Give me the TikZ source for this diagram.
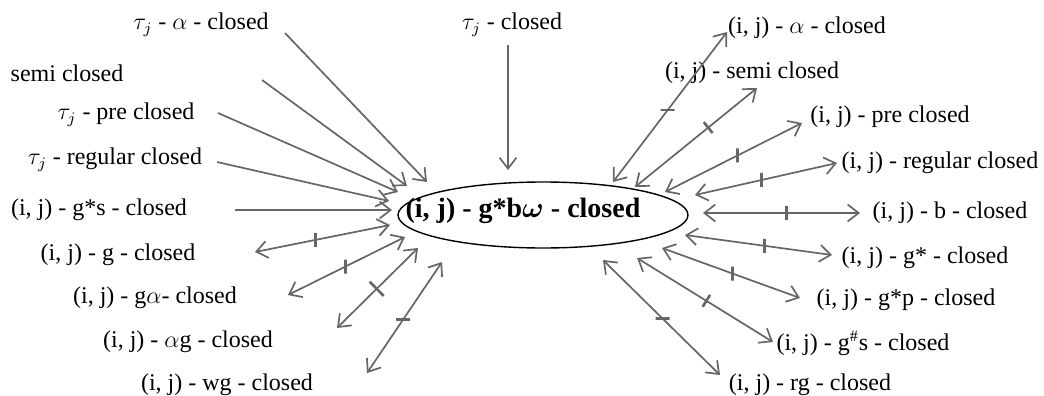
\documentclass[tikz,border=0pt]{standalone}
\usepackage{fontspec}
\setmainfont{Liberation Serif}
\usepackage{amsmath}
\usetikzlibrary{arrows.meta,shapes.geometric}

\tikzset{
    lbl/.style={font=\fontsize{12}{14}\selectfont, inner sep=2pt},
    link/.style={color=black!60, line width=0.85pt,
        -{Straight Barb[length=5.5pt,width=8.5pt]}},
    both/.style={link,
        {Straight Barb[length=5.5pt,width=8.5pt]}-{Straight Barb[length=5.5pt,width=8.5pt]}},
    vtick/.style={draw, line width=1.3pt, inner sep=0pt, minimum width=0pt, minimum height=7pt},
    htick/.style={draw, line width=1.3pt, inner sep=0pt, minimum width=7pt, minimum height=0pt},
    ptick/.style={vtick, sloped}
}

\begin{document}
\begin{tikzpicture}[x=0.5pt, y=-0.5pt]
    \useasboundingbox (0,0) rectangle (1044,396);

    % ===== CENTRE =====
    \node[draw, ellipse, line width=0.7pt, minimum width=145pt, minimum height=33pt,
          inner sep=0pt] (ring) at (543,215) {};
    \node[font=\fontsize{14}{16}\selectfont\bfseries] (main) at (523,211)
        {(i, j) - g*b$\boldsymbol{\omega}$ - closed};

    % ===== LEFT LABELS =====
    \node[lbl] (tauA)   at (201,25)  {$\tau_j$ - $\alpha$ - closed};
    \node[lbl] (semi)   at (67,73)   {semi closed};
    \node[lbl] (tauPre) at (126,115) {$\tau_j$ - pre closed};
    \node[lbl] (tauReg) at (115,160) {$\tau_j$ - regular closed};
    \node[lbl] (ijGs)   at (99,210)  {(i, j) - g*s - closed};
    \node[lbl] (ijG)    at (118,255) {(i, j) - g - closed};
    \node[lbl] (ijGa)   at (155,298) {(i, j) - g$\alpha$- closed};
    \node[lbl] (ijAg)   at (188,342) {(i, j) - $\alpha$g - closed};
    \node[lbl] (ijWg)   at (227,385) {(i, j) - wg - closed};

    % top label
    \node[lbl] (tauC)   at (512,25)  {$\tau_j$ - closed};

    % ===== RIGHT LABELS =====
    \node[lbl] (ijA)    at (807,28)  {(i, j) - $\alpha$ - closed};
    \node[lbl] (ijSemi) at (752,73)  {(i, j) - semi closed};
    \node[lbl] (ijPre)  at (890,117) {(i, j) - pre closed};
    \node[lbl] (ijReg)  at (940,163) {(i, j) - regular closed};
    \node[lbl] (ijB)    at (950,213) {(i, j) - b - closed};
    \node[lbl] (ijGst)  at (925,258) {(i, j) - g* - closed};
    \node[lbl] (ijGp)   at (906,300) {(i, j) - g*p - closed};
    \node[lbl] (ijGhs)  at (863,343) {(i, j) - g$^{\#}$s - closed};
    \node[lbl] (ijRg)   at (810,385) {(i, j) - rg - closed};

    % ===== ARROW ENDS =====
    % one-way arrows into the ellipse
    \coordinate (a1s) at (285,33);  \coordinate (a1e) at (427,182);
    \coordinate (a2s) at (262,80);  \coordinate (a2e) at (407,186);
    \coordinate (a3s) at (218,113); \coordinate (a3e) at (398,192);
    \coordinate (a4s) at (217,162); \coordinate (a4e) at (389,201);
    \coordinate (a5s) at (235,210); \coordinate (a5e) at (392,210);
    \coordinate (a6s) at (508,45);  \coordinate (a6e) at (508,170);
    % two-way arrows, left
    \coordinate (b1s) at (255,252); \coordinate (b1e) at (390,225);
    \coordinate (b2s) at (288,295); \coordinate (b2e) at (405,237);
    \coordinate (b3s) at (337,328); \coordinate (b3e) at (418,248);
    \coordinate (b4s) at (367,373); \coordinate (b4e) at (442,262);
    % two-way arrows, right
    \coordinate (c1s) at (613,182); \coordinate (c1e) at (727,32);
    \coordinate (c2s) at (635,187); \coordinate (c2e) at (757,88);
    \coordinate (c3s) at (665,192); \coordinate (c3e) at (802,123);
    \coordinate (c4s) at (695,195); \coordinate (c4e) at (837,163);
    \coordinate (c5s) at (703,213); \coordinate (c5e) at (860,213);
    \coordinate (c6s) at (685,235); \coordinate (c6e) at (832,255);
    \coordinate (c7s) at (662,248); \coordinate (c7e) at (800,298);
    \coordinate (c8s) at (637,258); \coordinate (c8e) at (773,342);
    \coordinate (c9s) at (603,260); \coordinate (c9e) at (720,375);

    % ===== ARROWS =====
    \draw[link] (a1s) -- (a1e);
    \draw[link] (a2s) -- (a2e);
    \draw[link] (a3s) -- (a3e);
    \draw[link] (a4s) -- (a4e);
    \draw[link] (a5s) -- (a5e);
    \draw[link] (a6s) -- (a6e);

    \draw[both] (b1s) -- node[pos=.45, vtick] {} (b1e);
    \draw[both] (b2s) -- node[pos=.49, vtick] {} (b2e);
    \draw[both] (b3s) -- node[pos=.49, ptick, minimum height=10pt] {} (b3e);
    \draw[both] (b4s) -- node[pos=.48, htick] {} (b4e);

    \draw[both] (c1s) -- node[pos=.48, htick] {} (c1e);
    \draw[both] (c2s) -- node[pos=.60, ptick] {} (c2e);
    \draw[both] (c3s) -- node[pos=.53, vtick] {} (c3e);
    \draw[both] (c4s) -- node[pos=.47, vtick] {} (c4e);
    \draw[both] (c5s) -- node[pos=.53, vtick] {} (c5e);
    \draw[both] (c6s) -- node[pos=.54, vtick] {} (c6e);
    \draw[both] (c7s) -- node[pos=.51, vtick] {} (c7e);
    \draw[both] (c8s) -- node[pos=.51, ptick] {} (c8e);
    \draw[both] (c9s) -- node[pos=.51, htick] {} (c9e);
\end{tikzpicture}
\end{document}
